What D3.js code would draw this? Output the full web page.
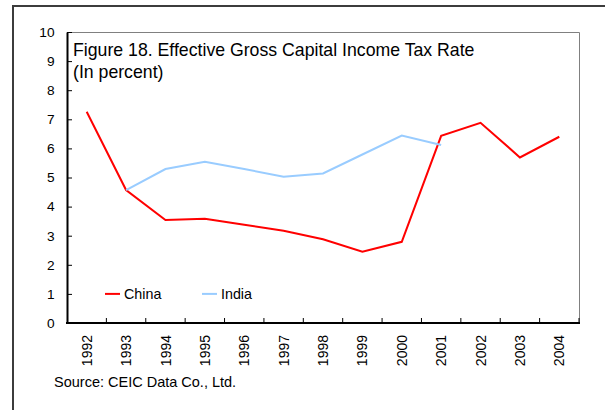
<!DOCTYPE html>
<html>
<head>
<meta charset="utf-8">
<script src="https://cdn.jsdelivr.net/npm/d3@7/dist/d3.min.js"></script>
<style>
  html, body { margin: 0; padding: 0; background: #fff; }
  svg { display: block; font-family: "Liberation Sans", Arial, sans-serif; }
</style>
</head>
<body>
<svg id="chart" width="605" height="410"></svg>
<script>
// Effective gross capital income tax rate, percent
const years = ["1992","1993","1994","1995","1996","1997","1998","1999","2000","2001","2002","2003","2004"];
const china = [7.26, 4.57, 3.54, 3.58, 3.38, 3.17, 2.88, 2.45, 2.79, 6.43, 6.88, 5.69, 6.40];
const india = [null, 4.57, 5.29, 5.54, 5.29, 5.03, 5.14, 5.79, 6.44, 6.12, null, null, null];
const yTicks = [0, 1, 2, 3, 4, 5, 6, 7, 8, 9, 10];
const seriesNames = ["China", "India"];
const seriesColors = ["#ff0000", "#99ccff"];

const svg = d3.select("#chart");
const plot = { left: 67, top: 32, right: 579, bottom: 323 };

// Outer frame running off the page at the right and bottom
svg.append("rect")
  .attr("x", 13).attr("y", 6)
  .attr("width", 700).attr("height", 500)
  .attr("fill", "none")
  .attr("stroke", "#3c3c3c")
  .attr("stroke-width", 2);

const x = d3.scaleBand().domain(years).range([plot.left, plot.right]).padding(0);
const y = d3.scaleLinear().domain([0, 10]).range([plot.bottom, plot.top]);

// Plot box: thin grey top and right edges
svg.append("path")
  .attr("d", `M${plot.left},${plot.top + 0.5}H${plot.right + 0.5}V${plot.bottom}`)
  .attr("fill", "none")
  .attr("stroke", "#808080")
  .attr("stroke-width", 1);

// Y axis
const yAxis = svg.append("g")
  .attr("transform", `translate(${plot.left},0)`)
  .call(d3.axisLeft(y).tickValues(yTicks).tickSizeInner(-5).tickSizeOuter(0).tickPadding(12.5).tickFormat(d3.format("d")));
yAxis.select(".domain").attr("stroke", "#000").attr("stroke-width", 2);
yAxis.selectAll(".tick line").attr("stroke", "#000");
yAxis.selectAll(".tick text").attr("font-size", 13.7).attr("fill", "#000")
  .attr("font-family", "Liberation Sans, Arial, sans-serif");

// X axis: ticks at category boundaries, labels rotated
const xAxis = svg.append("g")
  .attr("transform", `translate(0,${plot.bottom})`);
xAxis.append("line")
  .attr("x1", plot.left - 1).attr("x2", plot.right + 1)
  .attr("y1", 0).attr("y2", 0)
  .attr("stroke", "#000").attr("stroke-width", 2);
xAxis.selectAll("line.tick")
  .data(years.slice(1).concat(["end"]))
  .join("line")
  .attr("class", "tick")
  .attr("x1", (d, i) => i < years.length - 1 ? x(d) : plot.right)
  .attr("x2", (d, i) => i < years.length - 1 ? x(d) : plot.right)
  .attr("y1", 0).attr("y2", -5)
  .attr("stroke", "#000");
xAxis.selectAll("text")
  .data(years)
  .join("text")
  .attr("transform", d => `translate(${x(d) + x.bandwidth() / 2},12) rotate(-90)`)
  .attr("text-anchor", "end")
  .attr("dy", "0.36em")
  .attr("font-size", 14)
  .attr("fill", "#000")
  .text(d => d);

// Lines
const line = d3.line()
  .defined(d => d.v != null)
  .x(d => x(d.year) + x.bandwidth() / 2)
  .y(d => y(d.v));

[china, india].forEach((vals, i) => {
  svg.append("path")
    .datum(years.map((yr, j) => ({ year: yr, v: vals[j] })))
    .attr("fill", "none")
    .attr("stroke", seriesColors[i])
    .attr("stroke-width", 2)
    .attr("stroke-linejoin", "miter")
    .attr("d", line);
});

// Title inside the plot
const title = svg.append("text")
  .attr("font-size", 17.7)
  .attr("fill", "#000");
title.append("tspan").attr("x", 73).attr("y", 56).text("Figure 18. Effective Gross Capital Income Tax Rate");
title.append("tspan").attr("x", 73).attr("y", 77.5).text("(In percent)");

// Legend
const legendX = [105, 202];
seriesNames.forEach((name, i) => {
  const g = svg.append("g").attr("transform", `translate(${legendX[i]},${y(1)})`);
  g.append("line").attr("x1", 0).attr("x2", 15).attr("y1", 0).attr("y2", 0)
    .attr("stroke", seriesColors[i]).attr("stroke-width", 2);
  g.append("text").attr("x", 19).attr("dy", "0.36em")
    .attr("font-size", 14.3).attr("fill", "#000").text(name);
});

// Source note
svg.append("text")
  .attr("x", 54).attr("y", 387)
  .attr("font-size", 14.5)
  .attr("fill", "#000")
  .text("Source: CEIC Data Co., Ltd.");
</script>
</body>
</html>
